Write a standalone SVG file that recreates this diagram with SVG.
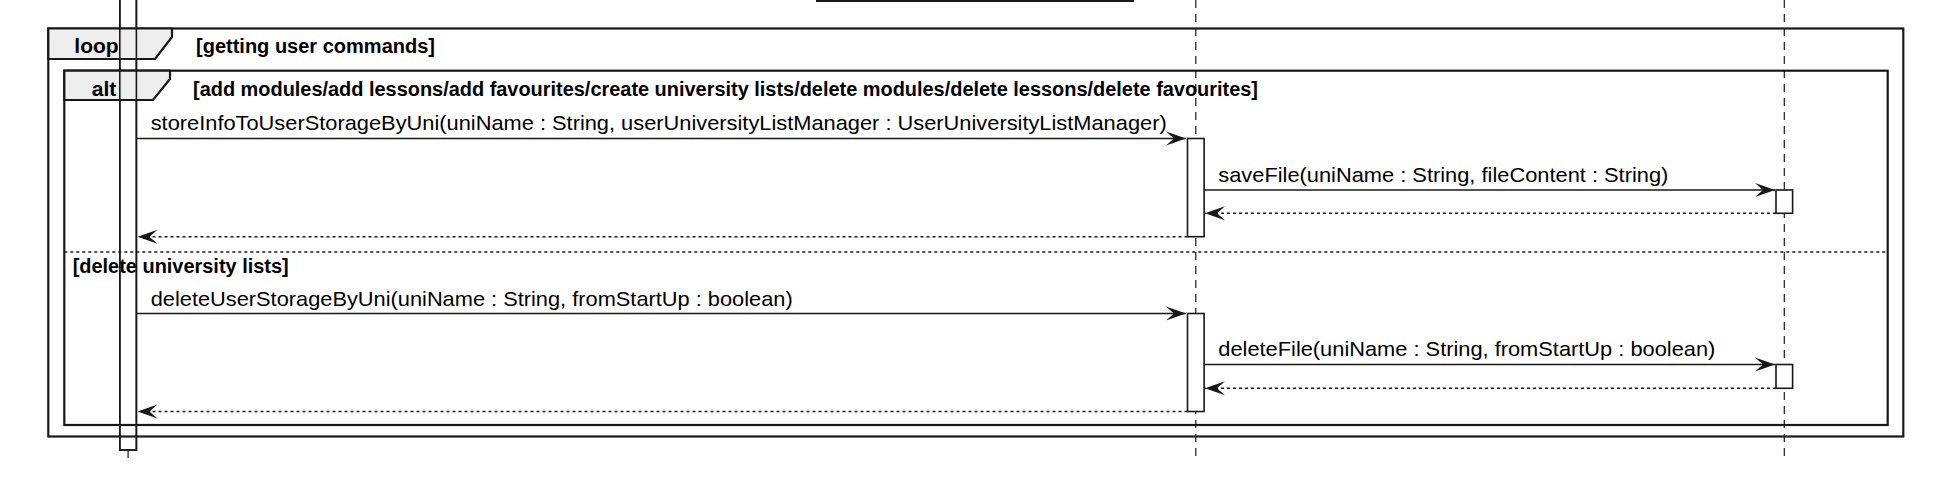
<svg xmlns="http://www.w3.org/2000/svg" width="1942" height="498" viewBox="0 0 1942 498">
<defs>
<style>
.life{stroke:#181818;stroke-width:1.2;stroke-dasharray:8,6;fill:none}
.act{fill:#ffffff;stroke:#181818;stroke-width:1.6}
.actline{fill:none;stroke:#181818;stroke-width:1.6}
.frame{fill:none;stroke:#181818;stroke-width:2.2}
.tab{fill:#EEEEEE;stroke:#181818;stroke-width:2.2;stroke-linejoin:miter}
.msg{stroke:#181818;stroke-width:1.6;fill:none;marker-end:url(#arr)}
.ret{stroke:#181818;stroke-width:1.6;fill:none;stroke-dasharray:3,3;marker-end:url(#arr)}
.sep{stroke:#181818;stroke-width:1.6;stroke-dasharray:3,3;fill:none}
.t{font-family:'Liberation Sans',Arial,sans-serif;font-size:21px;fill:#000000}
.g{font-family:'Liberation Sans',Arial,sans-serif;font-size:20px;font-weight:bold;fill:#000000}
.k{font-family:'Liberation Sans',Arial,sans-serif;font-size:21px;font-weight:bold;fill:#000000;text-anchor:middle}
</style>
<marker id="arr" markerUnits="userSpaceOnUse" markerWidth="22" markerHeight="16" viewBox="0 0 22 16" refX="21" refY="8" orient="auto">
<path d="M21,8 L1,1 L9,8 L1,15 Z" fill="#181818"/>
</marker>
</defs>
<rect x="0" y="0" width="1942" height="498" fill="#ffffff"/>

<line x1="816" y1="1" x2="1134" y2="1" stroke="#181818" stroke-width="2"/>

<g id="participant-1">
<line class="life" x1="128.1" y1="450" x2="128.1" y2="459"/>
<rect class="act" x="119.8" y="-5" width="16.6" height="455"/>
</g>
<g id="participant-2">
<line class="life" x1="1195.8" y1="0" x2="1195.8" y2="460"/>
<rect class="act" x="1187.5" y="138.5" width="16.6" height="98.2"/>
<rect class="act" x="1187.5" y="313.5" width="16.6" height="98"/>
</g>
<g id="participant-3">
<line class="life" x1="1784.3" y1="0" x2="1784.3" y2="460"/>
<rect class="act" x="1776" y="190" width="16.6" height="23.3"/>
<rect class="act" x="1776" y="364.5" width="16.6" height="23.8"/>
</g>

<g id="loop-frame">
<rect class="frame" x="48.3" y="28.5" width="1855" height="408"/>
<polygon class="tab" points="48.3,28.5 172,28.5 172,37 155,59 48.3,59"/>
<text class="k" x="96.5" y="52.5">loop</text>
<text class="g" x="196" y="52.5" textLength="239" lengthAdjust="spacingAndGlyphs">[getting user commands]</text>
</g>

<g id="alt-frame">
<rect class="frame" x="64.3" y="70.7" width="1823.4" height="354.3"/>
<polygon class="tab" points="64.3,70.7 170,70.7 170,79 153,100 64.3,100"/>
<text class="k" x="104" y="95.5">alt</text>
<text class="g" x="193" y="95.7" textLength="1065" lengthAdjust="spacingAndGlyphs">[add modules/add lessons/add favourites/create university lists/delete modules/delete lessons/delete favourites]</text>
<line class="sep" x1="64.3" y1="252" x2="1887.7" y2="252"/>
</g>

<rect class="actline" x="119.8" y="-5" width="16.6" height="455"/>
<text class="g" x="72.7" y="272.8" textLength="216" lengthAdjust="spacingAndGlyphs">[delete university lists]</text>

<g id="connectors">
<line class="msg" x1="136.4" y1="138.5" x2="1186" y2="138.5"/>
<text class="t" x="150.7" y="130.3" textLength="1016" lengthAdjust="spacingAndGlyphs">storeInfoToUserStorageByUni(uniName : String, userUniversityListManager : UserUniversityListManager)</text>
<line class="msg" x1="1204.1" y1="190" x2="1775" y2="190"/>
<text class="t" x="1218.3" y="181.7" textLength="450" lengthAdjust="spacingAndGlyphs">saveFile(uniName : String, fileContent : String)</text>
<line class="ret" x1="1776" y1="213.3" x2="1205" y2="213.3"/>
<line class="ret" x1="1187.5" y1="236.7" x2="137.5" y2="236.7"/>

<line class="msg" x1="136.4" y1="313.5" x2="1186" y2="313.5"/>
<text class="t" x="150.7" y="305.5" textLength="642" lengthAdjust="spacingAndGlyphs">deleteUserStorageByUni(uniName : String, fromStartUp : boolean)</text>
<line class="msg" x1="1204.1" y1="364.5" x2="1775" y2="364.5"/>
<text class="t" x="1218.3" y="355.8" textLength="497" lengthAdjust="spacingAndGlyphs">deleteFile(uniName : String, fromStartUp : boolean)</text>
<line class="ret" x1="1776" y1="388.3" x2="1205" y2="388.3"/>
<line class="ret" x1="1187.5" y1="411.5" x2="137.5" y2="411.5"/>
</g>
</svg>
